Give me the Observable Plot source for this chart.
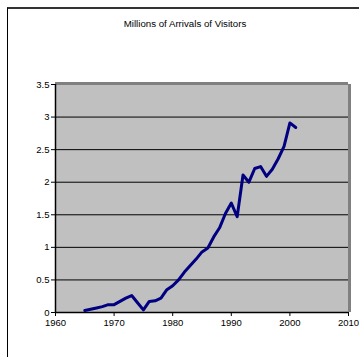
<!DOCTYPE html>
<html><head><meta charset="utf-8">
<script src="https://cdn.jsdelivr.net/npm/d3@7"></script>
<script src="https://cdn.jsdelivr.net/npm/@observablehq/plot@0.6"></script>
<style>
body{margin:0;background:#fff;font-family:"Liberation Sans",Arial,sans-serif;}
#wrap{position:relative;width:359px;height:357px;overflow:hidden;}
#frame{position:absolute;left:7px;top:7px;width:400px;height:400px;border-left:1.5px solid #000;border-top:2px solid #333;}
#title{position:absolute;top:18px;left:0;width:370px;text-align:center;font-size:9.7px;line-height:11px;color:#000;}
#chart{position:absolute;left:0;top:0;}
</style></head><body>
<div id="wrap"><div id="frame"></div><div id="title">Millions of Arrivals of Visitors</div><div id="chart"></div></div>
<script>
const years = [1965,1966,1967,1968,1969,1970,1971,1972,1973,1974,1975,1976,1977,1978,1979,1980,1981,1982,1983,1984,1985,1986,1987,1988,1989,1990,1991,1992,1993,1994,1995,1996,1997,1998,1999,2000,2001];
const arrivals = [0.03,0.05,0.07,0.09,0.12,0.12,0.17,0.22,0.26,0.15,0.04,0.17,0.18,0.22,0.35,0.41,0.50,0.62,0.72,0.82,0.93,0.99,1.16,1.30,1.52,1.68,1.47,2.11,2.00,2.21,2.24,2.09,2.20,2.36,2.55,2.91,2.84];
const xTicks = [1960,1970,1980,1990,2000,2010];
const yTicks = [0,0.5,1,1.5,2,2.5,3,3.5];
const gridValues = [0.5,1,1.5,2,2.5,3];

const data = years.map((y,i)=>({year:y, value:arrivals[i]}));

const chart = Plot.plot({
  width:359, height:357,
  marginLeft:55, marginRight:11, marginTop:84, marginBottom:45,
  style:{background:"transparent", fontFamily:"'Liberation Sans', Arial, sans-serif", fontSize:"9.5px", color:"#000"},
  x:{domain:[1960,2010]},
  y:{domain:[0,3.5]},
  marks:[
    Plot.frame({fill:"#c0c0c0", stroke:null}),
    Plot.ruleY(gridValues, {stroke:"#000", strokeWidth:1}),
    Plot.ruleY([3.5], {stroke:"#808080", strokeWidth:3, x1:1960, x2:2010, dy:-1}),
    Plot.ruleX([2010], {stroke:"#808080", strokeWidth:3, y1:0, y2:3.5, dx:1}),
    Plot.axisY(yTicks, {tickSize:4, tickPadding:2, tickFormat:d=>String(d), label:null, stroke:"#000", fontSize:9.5}),
    Plot.axisX(xTicks, {tickSize:4, tickPadding:3, tickFormat:d=>String(d), label:null, stroke:"#000", fontSize:9.5}),
    Plot.ruleX([1960], {stroke:"#000", strokeWidth:1.5}),
    Plot.ruleY([0], {stroke:"#000", strokeWidth:1.5}),
    Plot.line(data, {x:"year", y:"value", stroke:"#000080", strokeWidth:3, strokeLinejoin:"round", strokeLinecap:"round"})
  ]
});
document.getElementById("chart").appendChild(chart);
</script>
</body></html>
